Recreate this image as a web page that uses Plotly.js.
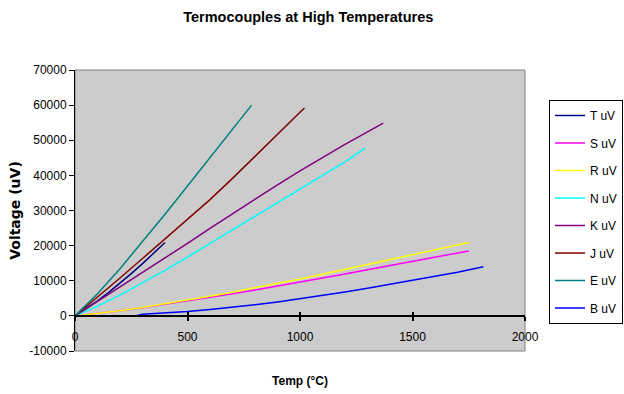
<!DOCTYPE html>
<html>
<head>
<meta charset="utf-8">
<script src="https://cdn.plot.ly/plotly-3.0.1.min.js"></script>
<style>
html,body{margin:0;padding:0;background:#fff;}
#chart{width:624px;height:394px;}
</style>
</head>
<body>
<div id="chart"></div>
<script>
// Temperatures (°C) and thermoelectric voltages (uV) per thermocouple type
const tT = [0, 50, 100, 150, 200, 250, 300, 350, 400];
const vT = [0, 2036, 4279, 6704, 9288, 12013, 14862, 17819, 20872];

const tS = [0, 100, 200, 300, 400, 500, 600, 700, 800, 900, 1000, 1100, 1200, 1300, 1400, 1500, 1600, 1700, 1750];
const vS = [0, 646, 1441, 2323, 3259, 4233, 5239, 6275, 7345, 8449, 9587, 10757, 11951, 13159, 14373, 15582, 16777, 17947, 18500];

const tR = [0, 100, 200, 300, 400, 500, 600, 700, 800, 900, 1000, 1100, 1200, 1300, 1400, 1500, 1600, 1700, 1750];
const vR = [0, 647, 1469, 2401, 3408, 4471, 5583, 6743, 7950, 9205, 10506, 11850, 13228, 14629, 16040, 17451, 18849, 20222, 20870];

const tN = [0, 100, 200, 300, 400, 500, 600, 700, 800, 900, 1000, 1100, 1200, 1290];
const vN = [0, 2774, 5913, 9341, 12974, 16748, 20613, 24527, 28455, 32371, 36256, 40087, 43846, 47800];

const tK = [0, 100, 200, 300, 400, 500, 600, 700, 800, 900, 1000, 1100, 1200, 1300, 1370];
const vK = [0, 4096, 8138, 12209, 16397, 20644, 24905, 29129, 33275, 37326, 41276, 45119, 48838, 52410, 54900];

const tJ = [0, 100, 200, 300, 400, 500, 600, 700, 800, 900, 1000, 1020];
const vJ = [0, 5269, 10779, 16327, 21848, 27393, 33102, 39132, 45494, 51877, 57953, 59200];

const tE = [0, 100, 200, 300, 400, 500, 600, 700, 785];
const vE = [0, 6319, 13421, 21036, 28946, 36999, 45093, 53112, 60000];

const tB = [0, 100, 200, 270, 300, 400, 500, 600, 700, 800, 900, 1000, 1100, 1200, 1300, 1400, 1500, 1600, 1700, 1815];
const vB = [0, 0, 0, 0, 431, 787, 1242, 1792, 2431, 3154, 3957, 4834, 5780, 6786, 7848, 8956, 10099, 11263, 12433, 14000];

const seriesNames = ["T uV", "S uV", "R uV", "N uV", "K uV", "J uV", "E uV", "B uV"];
const seriesColors = ["#000080", "#FF00FF", "#FFFF00", "#00FFFF", "#800080", "#800000", "#008080", "#0000FF"];
const xs = [tT, tS, tR, tN, tK, tJ, tE, tB];
const ys = [vT, vS, vR, vN, vK, vJ, vE, vB];

const xTicks = [0, 500, 1000, 1500, 2000];
const yTicks = [-10000, 0, 10000, 20000, 30000, 40000, 50000, 60000, 70000];

const traces = seriesNames.map((n, i) => ({
  type: 'scatter', mode: 'lines', name: n, legendgroup: 'g' + i,
  x: xs[i], y: ys[i],
  line: {color: seriesColors[i], width: 1.5}
}));
// overlay axis to draw the inner half of the crossing x ticks
traces.push({type: 'scatter', mode: 'lines', x: [0], y: [0], xaxis: 'x2', showlegend: false, hoverinfo: 'skip', line: {color: 'rgba(0,0,0,0)'}});

const font = 'Liberation Sans, Arial, sans-serif';
const layout = {
  width: 624, height: 394,
  margin: {l: 75, r: 99, t: 70, b: 43},
  paper_bgcolor: '#ffffff',
  plot_bgcolor: '#cccccc',
  showlegend: true,
  font: {family: font, size: 12, color: '#000'},
  title: {
    text: 'Termocouples at High Temperatures',
    font: {family: font, size: 14.5, weight: 'bold', color: '#000'},
    xref: 'container', yref: 'container', x: 0.494, y: 1 - 17 / 394, xanchor: 'center', yanchor: 'middle'
  },
  xaxis: {
    range: [0, 2000], tickvals: xTicks, ticktext: xTicks.map(String),
    anchor: 'free', position: 0.125,
    showline: true, linecolor: '#000', linewidth: 2,
    ticks: 'outside', ticklen: 4, tickcolor: '#000', tickwidth: 2,
    ticklabelstandoff: 6,
    showgrid: false, zeroline: false,
    tickfont: {family: font, size: 12, color: '#000'},
    title: {text: 'Temp (°C)', font: {family: font, size: 12, weight: 'bold', color: '#000'}, standoff: 32}
  },
  xaxis2: {
    range: [0, 2000], tickvals: xTicks, overlaying: 'x', anchor: 'free', position: 0.125,
    ticks: 'inside', ticklen: 4, tickcolor: '#000', tickwidth: 2,
    showticklabels: false, showgrid: false, zeroline: false, showline: false
  },
  yaxis: {
    range: [-10000, 70000], tickvals: yTicks, ticktext: yTicks.map(String),
    showline: true, linecolor: '#000', linewidth: 1,
    ticks: 'outside', ticklen: 5, tickcolor: '#000',
    showgrid: false, zeroline: false,
    tickfont: {family: font, size: 12, color: '#000'},
    title: {text: 'Voltage (uV)', font: {family: 'DejaVu Sans, sans-serif', size: 14, weight: 'bold', color: '#000'}, standoff: 5}
  },
  legend: {
    xref: 'container', yref: 'container', x: 549 / 624, y: 1 - 100 / 394,
    xanchor: 'left', yanchor: 'top',
    bgcolor: '#ffffff', bordercolor: '#000', borderwidth: 1,
    font: {family: font, size: 12, color: '#000'},
    tracegroupgap: 8.5, traceorder: 'grouped', itemwidth: 30,
    maxheight: 300
  },
  shapes: [{type: 'rect', xref: 'paper', yref: 'paper', x0: 0, x1: 1, y0: 0, y1: 1,
    line: {color: '#808080', width: 1}, layer: 'below'}]
};

Plotly.newPlot('chart', traces, layout, {displayModeBar: false, staticPlot: true});
</script>
</body>
</html>
